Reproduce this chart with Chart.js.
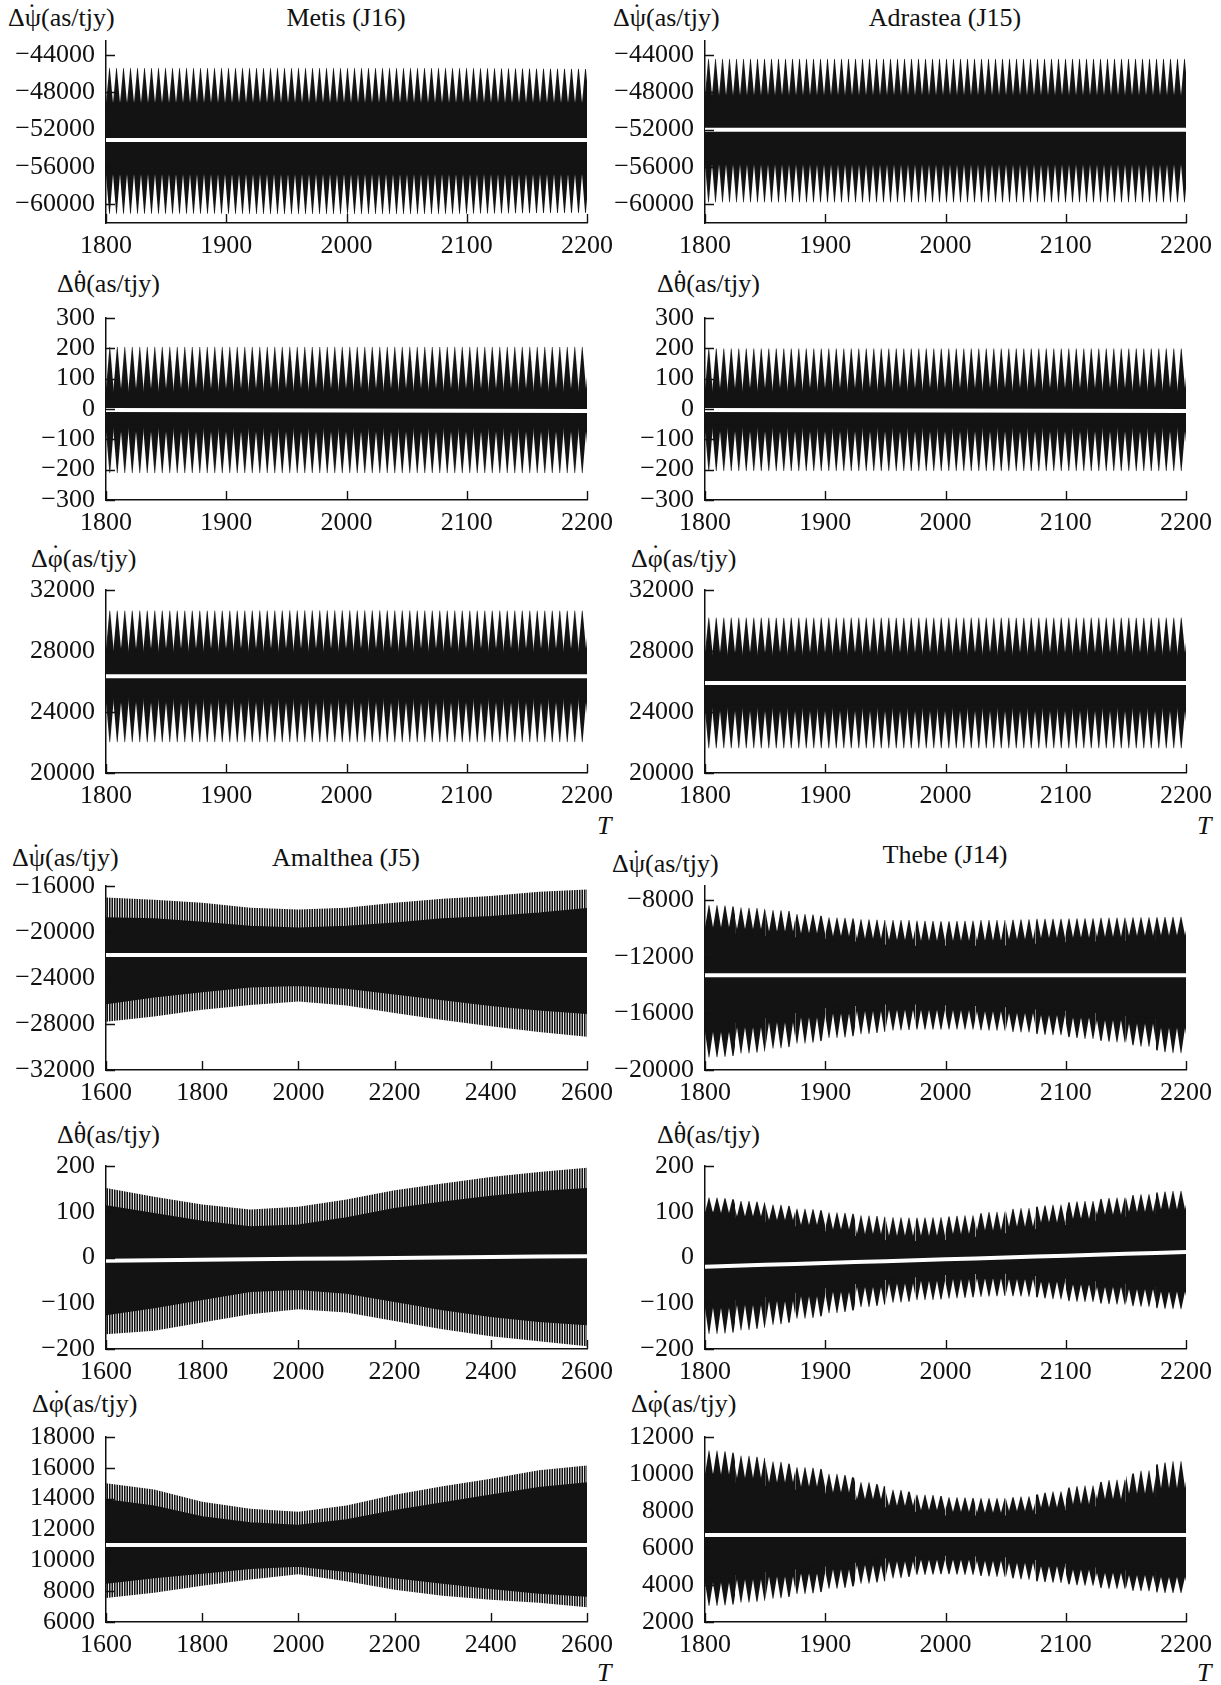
<!DOCTYPE html>
<html>
<head>
<meta charset="utf-8">
<script src="https://cdn.jsdelivr.net/npm/chart.js@4.4.0/dist/chart.umd.min.js"></script>
<style>
  body { margin: 0; background: #fff; }
  #page { position: relative; width: 1221px; height: 1685px; overflow: hidden;
          font-family: 'Liberation Serif', 'Times New Roman', serif; color: #111; }
  #page canvas { position: absolute; }
  .lbl { position: absolute; font-size: 26px; line-height: 1; white-space: nowrap; transform: translateY(-50%); }
  .ttl { position: absolute; font-size: 26px; line-height: 1; white-space: nowrap; transform: translate(-50%, -50%); }
  .tl  { position: absolute; font-size: 26px; line-height: 1; font-style: italic; transform: translateY(-50%); }
  .dot { display: inline-block; width: 0; position: relative; top: -0.2em; }
  .dot.psi { left: -0.52em; }
  .dot.theta { left: -0.42em; }
  .dot.phi { left: -0.44em; }
</style>
</head>
<body>
<div id="page">
  <div class="lbl" style="left:8px;top:18px">Δψ<span class="dot psi">˙</span>(as/tjy)</div>
  <div class="ttl" style="left:346px;top:18px">Metis (J16)</div>
  <div class="lbl" style="left:613px;top:18px">Δψ<span class="dot psi">˙</span>(as/tjy)</div>
  <div class="ttl" style="left:945px;top:18px">Adrastea (J15)</div>

  <div class="lbl" style="left:57px;top:284px">Δθ<span class="dot theta">˙</span>(as/tjy)</div>
  <div class="lbl" style="left:657px;top:284px">Δθ<span class="dot theta">˙</span>(as/tjy)</div>

  <div class="lbl" style="left:31px;top:559px">Δφ<span class="dot phi">˙</span>(as/tjy)</div>
  <div class="lbl" style="left:631px;top:559px">Δφ<span class="dot phi">˙</span>(as/tjy)</div>
  <div class="tl" style="left:597px;top:826px">T</div>
  <div class="tl" style="left:1197px;top:826px">T</div>

  <div class="lbl" style="left:12px;top:858px">Δψ<span class="dot psi">˙</span>(as/tjy)</div>
  <div class="ttl" style="left:346px;top:858px">Amalthea (J5)</div>
  <div class="lbl" style="left:612px;top:864px">Δψ<span class="dot psi">˙</span>(as/tjy)</div>
  <div class="ttl" style="left:945px;top:855px">Thebe (J14)</div>

  <div class="lbl" style="left:57px;top:1135px">Δθ<span class="dot theta">˙</span>(as/tjy)</div>
  <div class="lbl" style="left:657px;top:1135px">Δθ<span class="dot theta">˙</span>(as/tjy)</div>

  <div class="lbl" style="left:32px;top:1404px">Δφ<span class="dot phi">˙</span>(as/tjy)</div>
  <div class="lbl" style="left:631px;top:1404px">Δφ<span class="dot phi">˙</span>(as/tjy)</div>
  <div class="tl" style="left:597px;top:1673px">T</div>
  <div class="tl" style="left:1197px;top:1673px">T</div>
</div>

<script>
// ---- tick labels ----
const xTicksShort = [1800, 1900, 2000, 2100, 2200];
const xTicksLong = [1600, 1800, 2000, 2200, 2400, 2600];
const psiTicksInner = [-60000, -56000, -52000, -48000, -44000];
const thetaTicksInner = [-300, -200, -100, 0, 100, 200, 300];
const phiTicksInner = [20000, 24000, 28000, 32000];
const psiTicksAmalthea = [-32000, -28000, -24000, -20000, -16000];
const psiTicksThebe = [-20000, -16000, -12000, -8000];
const thetaTicksOuter = [-200, -100, 0, 100, 200];
const phiTicksAmalthea = [6000, 8000, 10000, 12000, 14000, 16000, 18000];
const phiTicksThebe = [2000, 4000, 6000, 8000, 10000, 12000];

// ---- sample years ----
const yearsShort = [1800, 1900, 2000, 2100, 2200];
const yearsThebe = [1800, 1825, 1850, 1875, 1900, 1925, 1950, 1975, 2000, 2025, 2050, 2075, 2100, 2125, 2150, 2175, 2200];
const yearsAmalthea = [1600, 1700, 1800, 1900, 2000, 2100, 2200, 2300, 2400, 2500, 2600];

// band = peak tips (top), where the spikes merge (topBase), mean line, lower merge (botBase), trough tips (bot)
// Metis (J16)
const metisPsiTop     = [-45400, -45400, -45300, -45400, -45500];
const metisPsiTopBase = [-49800, -49800, -49800, -49800, -49800];
const metisPsiMean    = [-53100, -53100, -53100, -53100, -53100];
const metisPsiBotBase = [-56000, -56000, -56000, -56000, -56000];
const metisPsiBot     = [-61000, -61000, -61100, -61000, -60900];

const metisThetaTop     = [205, 205, 205, 205, 205];
const metisThetaTopBase = [45, 45, 45, 45, 45];
const metisThetaMean    = [-3, -4, -5, -6, -7];
const metisThetaBotBase = [-50, -50, -50, -50, -50];
const metisThetaBot     = [-212, -212, -212, -212, -212];

const metisPhiTop     = [30650, 30650, 30700, 30650, 30650];
const metisPhiTopBase = [27700, 27700, 27700, 27700, 27700];
const metisPhiMean    = [26350, 26350, 26350, 26350, 26350];
const metisPhiBotBase = [25100, 25100, 25100, 25100, 25100];
const metisPhiBot     = [22000, 22000, 22000, 22000, 22000];

// Adrastea (J15)
const adrasteaPsiTop     = [-44400, -44400, -44400, -44400, -44400];
const adrasteaPsiTopBase = [-49000, -49000, -49000, -49000, -49000];
const adrasteaPsiMean    = [-52000, -52000, -52000, -52000, -52000];
const adrasteaPsiBotBase = [-55000, -55000, -55000, -55000, -55000];
const adrasteaPsiBot     = [-59800, -59800, -59800, -59800, -59800];

const adrasteaThetaTop     = [200, 200, 200, 200, 200];
const adrasteaThetaTopBase = [45, 45, 45, 45, 45];
const adrasteaThetaMean    = [-3, -4, -5, -6, -7];
const adrasteaThetaBotBase = [-50, -50, -50, -50, -50];
const adrasteaThetaBot     = [-205, -205, -205, -205, -205];

const adrasteaPhiTop     = [30200, 30200, 30200, 30200, 30200];
const adrasteaPhiTopBase = [27500, 27500, 27500, 27500, 27500];
const adrasteaPhiMean    = [25900, 25900, 25900, 25900, 25900];
const adrasteaPhiBotBase = [24500, 24500, 24500, 24500, 24500];
const adrasteaPhiBot     = [21600, 21600, 21600, 21600, 21600];

// Amalthea (J5)
const amaltheaPsiTop     = [-17000, -17200, -17450, -17900, -18050, -17900, -17450, -17100, -16870, -16500, -16300];
const amaltheaPsiTopBase = [-18800, -18900, -19200, -19550, -19700, -19550, -19250, -18900, -18700, -18400, -18000];
const amaltheaPsiMean    = [-22000, -22000, -22000, -22000, -22000, -22000, -22000, -22000, -22000, -22000, -22000];
const amaltheaPsiBotBase = [-26200, -25600, -25150, -24750, -24600, -24850, -25350, -25850, -26350, -26750, -27050];
const amaltheaPsiBot     = [-27800, -27350, -26750, -26350, -26050, -26400, -27050, -27650, -28200, -28700, -29100];

const amaltheaThetaTop     = [152, 133, 116, 105, 111, 127, 147, 162, 176, 187, 196];
const amaltheaThetaTopBase = [112, 95, 78, 66, 70, 86, 106, 120, 133, 143, 150];
const amaltheaThetaMean    = [-7, -6, -5, -4, -3, -2, -1, 0, 1, 2, 3];
const amaltheaThetaBotBase = [-124, -109, -91, -73, -69, -77, -95, -113, -128, -139, -146];
const amaltheaThetaBot     = [-168, -160, -142, -124, -113, -120, -139, -157, -172, -183, -194];

const amaltheaPhiTop     = [15000, 14600, 13800, 13350, 13150, 13550, 14250, 14800, 15300, 15850, 16150];
const amaltheaPhiTopBase = [13900, 13500, 12800, 12400, 12250, 12600, 13200, 13700, 14200, 14700, 15000];
const amaltheaPhiMean    = [11000, 11000, 11000, 11000, 11000, 11000, 11000, 11000, 11000, 11000, 11000];
const amaltheaPhiBotBase = [8550, 8900, 9200, 9500, 9650, 9300, 8900, 8550, 8200, 7900, 7700];
const amaltheaPhiBot     = [7550, 7900, 8350, 8750, 9100, 8650, 8100, 7700, 7450, 7250, 6950];

// Thebe (J14)
const thebePsiTop     = [-8250, -8450, -8600, -8800, -9150, -9300, -9400, -9400, -9500, -9400, -9400, -9300, -9300, -9250, -9200, -9200, -9150];
const thebePsiTopBase = [-10350, -10450, -10600, -10700, -10800, -11000, -11200, -11300, -11300, -11300, -11250, -11150, -11050, -11000, -10950, -10900, -10800];
const thebePsiMean    = [-13300, -13300, -13300, -13300, -13300, -13300, -13300, -13300, -13300, -13300, -13300, -13300, -13300, -13300, -13300, -13300, -13300];
const thebePsiBotBase = [-16950, -16600, -16250, -15900, -15550, -15400, -15300, -15300, -15350, -15400, -15500, -15650, -15750, -15900, -16100, -16350, -16600];
const thebePsiBot     = [-19200, -19000, -18700, -18300, -17900, -17600, -17300, -17150, -17150, -17200, -17300, -17450, -17650, -17900, -18150, -18600, -19050];

const thebeThetaTop     = [135, 127, 120, 111, 102, 95, 89, 87, 89, 95, 105, 111, 120, 127, 135, 142, 149];
const thebeThetaTopBase = [91, 84, 76, 66, 55, 45, 36, 34, 36, 43, 51, 60, 69, 78, 87, 91, 95];
const thebeThetaMean    = [-20, -18, -16, -14, -12, -10, -8, -6, -4, -2, 0, 2, 4, 6, 8, 10, 12];
const thebeThetaBotBase = [-95, -90, -84, -75, -65, -56, -47, -41, -36, -34, -33, -38, -44, -50, -55, -60, -65];
const thebeThetaBot     = [-171, -164, -153, -140, -127, -115, -103, -95, -91, -87, -84, -87, -95, -100, -105, -111, -116];

const thebePhiTop     = [11400, 11130, 10850, 10490, 10240, 9780, 9330, 8970, 8790, 8700, 8700, 8880, 9240, 9510, 9870, 10510, 10870];
const thebePhiTopBase = [9700, 9500, 9300, 9100, 8900, 8550, 8150, 7900, 7700, 7700, 7700, 7800, 8000, 8200, 8450, 8700, 8950];
const thebePhiMean    = [6700, 6700, 6700, 6700, 6700, 6700, 6700, 6700, 6700, 6700, 6700, 6700, 6700, 6700, 6700, 6700, 6700];
const thebePhiBotBase = [4400, 4600, 4750, 4900, 5050, 5250, 5500, 5600, 5650, 5600, 5550, 5400, 5200, 5000, 4850, 4750, 4650];
const thebePhiBot     = [2800, 2950, 3150, 3400, 3650, 3950, 4200, 4500, 4600, 4500, 4400, 4200, 4050, 3850, 3700, 3600, 3500];

// ---- page layout (pixels) ----
// canvases are wider than their plot so Chart.js never shrinks the plot for the end labels
const cols = [
  { left: 0, width: 640, plotLeft: 106, plotRight: 587 },
  { left: 610, width: 640, plotLeft: 705, plotRight: 1186 }
];
const rows = [
  { top: 41, bottom: 223 },
  { top: 318, bottom: 500 },
  { top: 590, bottom: 773 },
  { top: 886, bottom: 1070 },
  { top: 1166, bottom: 1349 },
  { top: 1437, bottom: 1622 }
];
const PAD_TOP = 32;
const X_AXIS_H = 45;
const INK = '#131313';
const teeth7 = { kind: 'teeth', period: 7, spread: 0.08 };
const teeth75 = { kind: 'teeth', period: 7.5, spread: 0.08 };
const teeth8 = { kind: 'teeth', period: 8, spread: 0.14, perSegment: true };
const hair = { kind: 'stripes', period: 2.5, gap: 0.9 };

const panels = [
  { row: 0, col: 0, years: yearsShort, xTicks: xTicksShort, yMin: -62000, yMax: -42500, yTicks: psiTicksInner, fringe: teeth7,
    band: [metisPsiTop, metisPsiTopBase, metisPsiMean, metisPsiBotBase, metisPsiBot] },
  { row: 0, col: 1, years: yearsShort, xTicks: xTicksShort, yMin: -62000, yMax: -42500, yTicks: psiTicksInner, fringe: teeth7,
    band: [adrasteaPsiTop, adrasteaPsiTopBase, adrasteaPsiMean, adrasteaPsiBotBase, adrasteaPsiBot] },
  { row: 1, col: 0, years: yearsShort, xTicks: xTicksShort, yMin: -300, yMax: 300, yTicks: thetaTicksInner, fringe: teeth75,
    band: [metisThetaTop, metisThetaTopBase, metisThetaMean, metisThetaBotBase, metisThetaBot] },
  { row: 1, col: 1, years: yearsShort, xTicks: xTicksShort, yMin: -300, yMax: 300, yTicks: thetaTicksInner, fringe: teeth75,
    band: [adrasteaThetaTop, adrasteaThetaTopBase, adrasteaThetaMean, adrasteaThetaBotBase, adrasteaThetaBot] },
  { row: 2, col: 0, years: yearsShort, xTicks: xTicksShort, yMin: 20000, yMax: 32000, yTicks: phiTicksInner, fringe: teeth75,
    band: [metisPhiTop, metisPhiTopBase, metisPhiMean, metisPhiBotBase, metisPhiBot] },
  { row: 2, col: 1, years: yearsShort, xTicks: xTicksShort, yMin: 20000, yMax: 32000, yTicks: phiTicksInner, fringe: teeth75,
    band: [adrasteaPhiTop, adrasteaPhiTopBase, adrasteaPhiMean, adrasteaPhiBotBase, adrasteaPhiBot] },
  { row: 3, col: 0, years: yearsAmalthea, xTicks: xTicksLong, yMin: -32000, yMax: -16000, yTicks: psiTicksAmalthea, fringe: hair,
    band: [amaltheaPsiTop, amaltheaPsiTopBase, amaltheaPsiMean, amaltheaPsiBotBase, amaltheaPsiBot] },
  { row: 3, col: 1, years: yearsThebe, xTicks: xTicksShort, yMin: -20000, yMax: -7000, yTicks: psiTicksThebe, fringe: teeth8,
    band: [thebePsiTop, thebePsiTopBase, thebePsiMean, thebePsiBotBase, thebePsiBot] },
  { row: 4, col: 0, years: yearsAmalthea, xTicks: xTicksLong, yMin: -200, yMax: 200, yTicks: thetaTicksOuter, fringe: hair,
    band: [amaltheaThetaTop, amaltheaThetaTopBase, amaltheaThetaMean, amaltheaThetaBotBase, amaltheaThetaBot] },
  { row: 4, col: 1, years: yearsThebe, xTicks: xTicksShort, yMin: -200, yMax: 200, yTicks: thetaTicksOuter, fringe: teeth8,
    band: [thebeThetaTop, thebeThetaTopBase, thebeThetaMean, thebeThetaBotBase, thebeThetaBot] },
  { row: 5, col: 0, years: yearsAmalthea, xTicks: xTicksLong, yMin: 6000, yMax: 18000, yTicks: phiTicksAmalthea, fringe: hair,
    band: [amaltheaPhiTop, amaltheaPhiTopBase, amaltheaPhiMean, amaltheaPhiBotBase, amaltheaPhiBot] },
  { row: 5, col: 1, years: yearsThebe, xTicks: xTicksShort, yMin: 2000, yMax: 12000, yTicks: phiTicksThebe, fringe: teeth8,
    band: [thebePhiTop, thebePhiTopBase, thebePhiMean, thebePhiBotBase, thebePhiBot] }
];

function fmt(v) {
  return v < 0 ? '\u2212' + Math.abs(v) : String(v);
}

function avg(a) {
  return a.reduce((s, v) => s + v, 0) / a.length;
}

// pattern for the spiky edge of the band, placed with the chart's own y scale
function makeFringe(chart, spec, tips, bases) {
  const area = chart.chartArea;
  const y = chart.scales.y;
  if (!area || !y) return INK;
  const tile = document.createElement('canvas');
  const w = Math.round(spec.period * 2);
  const half = w / 2;
  let dy = 0;
  if (spec.kind === 'teeth') {
    const tipPx = y.getPixelForValue(avg(tips));
    const basePx = y.getPixelForValue(avg(bases));
    const h = Math.max(2, Math.round(Math.abs(basePx - tipPx)));
    const up = tipPx < basePx;
    const spread = half * spec.spread;
    tile.width = w;
    tile.height = h + 60;
    const c = tile.getContext('2d');
    c.fillStyle = INK;
    for (let k = -1; k < 3; k++) {
      const x0 = k * half - spread, x1 = (k + 1) * half + spread, xm = k * half + half / 2;
      c.beginPath();
      if (up) { c.moveTo(x0, 20 + h); c.lineTo(xm - 0.3, 20); c.lineTo(xm + 0.3, 20); c.lineTo(x1, 20 + h); }
      else { c.moveTo(x0, 40); c.lineTo(xm - 0.3, 40 + h); c.lineTo(xm + 0.3, 40 + h); c.lineTo(x1, 40); }
      c.closePath();
      c.fill();
    }
    if (up) { c.fillRect(0, 20 + h, w, 40); dy = tipPx - 20; }
    else { c.fillRect(0, 0, w, 40); dy = basePx - 40; }
  } else {
    tile.width = w;
    tile.height = 1;
    const c = tile.getContext('2d');
    c.fillStyle = INK;
    for (let k = 0; k < 2; k++) {
      c.fillRect(k * half + spec.gap / 2, 0, half - spec.gap, 1);
    }
  }
  const pat = chart.ctx.createPattern(tile, 'repeat');
  pat.setTransform(new DOMMatrix([1, 0, 0, 1, area.left, dy]));
  return pat;
}

// whole-dataset fill
function fringeFill(spec, tips, bases) {
  return ctx => makeFringe(ctx.chart, spec, tips, bases);
}

// per-segment fill so the teeth follow an envelope that moves
function fringeSegment(spec, tips, bases) {
  const cache = {};
  return ctx => {
    const i0 = ctx.p0DataIndex, i1 = ctx.p1DataIndex;
    const key = i0 + '_' + i1;
    if (!cache[key]) cache[key] = makeFringe(ctx.chart, spec, [tips[i0], tips[i1]], [bases[i0], bases[i1]]);
    return cache[key];
  };
}

// short inward tick marks on both axes
const innerTicks = {
  id: 'innerTicks',
  afterDraw(chart) {
    const { ctx, chartArea: a, scales: { x, y } } = chart;
    ctx.save();
    ctx.strokeStyle = '#111';
    ctx.lineWidth = 1.4;
    ctx.beginPath();
    x.ticks.forEach(t => {
      const px = Math.round(x.getPixelForValue(t.value)) + 0.5;
      ctx.moveTo(px, a.bottom);
      ctx.lineTo(px, a.bottom - 9);
    });
    y.ticks.forEach(t => {
      const py = Math.round(y.getPixelForValue(t.value)) + 0.5;
      ctx.moveTo(a.left, py);
      ctx.lineTo(a.left + 9, py);
    });
    ctx.stroke();
    ctx.restore();
  }
};

const page = document.getElementById('page');
const tickFont = { family: "'Liberation Serif', 'Times New Roman', serif", size: 26 };

panels.forEach(p => {
  const col = cols[p.col];
  const row = rows[p.row];
  const h = row.bottom - row.top + PAD_TOP + X_AXIS_H;
  const cv = document.createElement('canvas');
  cv.width = col.width;
  cv.height = h;
  cv.style.left = col.left + 'px';
  cv.style.top = (row.top - PAD_TOP) + 'px';
  cv.style.width = col.width + 'px';
  cv.style.height = h + 'px';
  page.appendChild(cv);

  const [top, topBase, mean, botBase, bot] = p.band;
  const pts = arr => p.years.map((x, k) => ({ x, y: arr[k] }));
  const hidden = { borderWidth: 0, borderColor: 'transparent', pointBackgroundColor: 'transparent' };
  // the merge lines get a thin ink stroke so no seam shows between fills
  const seam = { borderWidth: 2, borderColor: INK, pointBackgroundColor: 'transparent' };
  const edge = (tips, bases) => {
    const ds = { backgroundColor: fringeFill(p.fringe, tips, bases) };
    if (p.fringe.perSegment) ds.segment = { backgroundColor: fringeSegment(p.fringe, tips, bases) };
    return ds;
  };

  new Chart(cv, {
    type: 'line',
    data: {
      datasets: [
        { data: pts(mean), borderColor: '#fff', borderWidth: 4, borderCapStyle: 'butt', fill: false },
        { ...hidden, ...edge(top, topBase), data: pts(top), fill: 2 },
        { ...seam, data: pts(topBase), fill: 3, backgroundColor: INK },
        { ...seam, data: pts(botBase), fill: false },
        { ...hidden, ...edge(bot, botBase), data: pts(bot), fill: 3 }
      ]
    },
    options: {
      responsive: false,
      animation: false,
      events: [],
      layout: { padding: { top: PAD_TOP, left: 0, bottom: 0, right: col.left + col.width - col.plotRight } },
      elements: { point: { radius: 0, hoverRadius: 0 }, line: { tension: 0 } },
      plugins: { legend: { display: false }, tooltip: { enabled: false } },
      scales: {
        x: {
          type: 'linear',
          min: p.xTicks[0],
          max: p.xTicks[p.xTicks.length - 1],
          grid: { display: false, drawTicks: false },
          border: { display: true, color: '#111', width: 1.5 },
          afterBuildTicks: s => { s.ticks = p.xTicks.map(v => ({ value: v })); },
          afterFit: s => { s.height = X_AXIS_H; },
          ticks: { color: '#111', font: tickFont, padding: 8, maxRotation: 0, autoSkip: false, callback: v => String(v) }
        },
        y: {
          type: 'linear',
          min: p.yMin,
          max: p.yMax,
          grid: { display: false, drawTicks: false },
          border: { display: true, color: '#111', width: 1.5 },
          afterBuildTicks: s => { s.ticks = p.yTicks.map(v => ({ value: v })); },
          afterFit: s => { s.width = col.plotLeft - col.left; },
          ticks: { color: '#111', font: tickFont, padding: 11, autoSkip: false, callback: v => fmt(v) }
        }
      }
    },
    plugins: [innerTicks]
  });
});
</script>
</body>
</html>
